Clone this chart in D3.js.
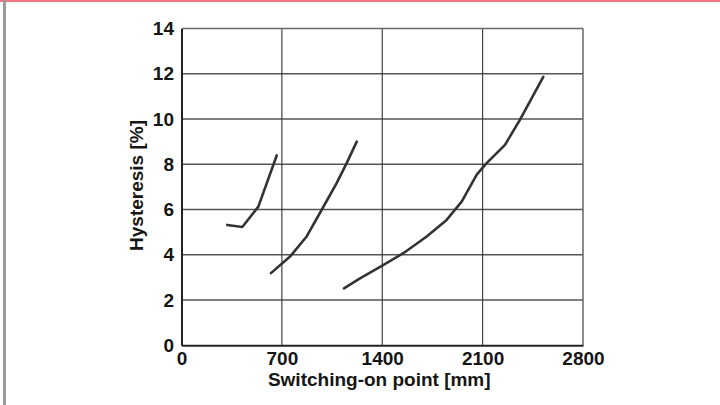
<!DOCTYPE html>
<html lang="en">
<head>
  <meta charset="UTF-8">
  <title>Hysteresis</title>
  <script src="https://d3js.org/d3.v7.min.js"></script>
  <style>
    html, body {
      margin: 0;
      padding: 0;
      width: 720px;
      height: 405px;
      overflow: hidden;
      background: #fff;
      font-family: "Liberation Sans", Arial, sans-serif;
    }
    svg { display: block; }
    .tick text { font-weight: bold; fill: #161616; }
  </style>
</head>
<body>
<svg width="720" height="405"></svg>
<script>
// switching-on point [mm] / hysteresis [%], three curves
const curveA = [[319, 5.32], [424, 5.23], [536, 6.13], [664, 8.39]];
const curveB = [[624, 3.19], [757, 3.92], [873, 4.81], [978, 5.99], [1082, 7.17], [1152, 8.05], [1222, 9.0]];
const curveC = [[1133, 2.52], [1245, 2.96], [1400, 3.52], [1547, 4.07], [1710, 4.81], [1849, 5.54],
                [1954, 6.35], [2059, 7.54], [2128, 8.05], [2256, 8.86], [2361, 9.97], [2523, 11.86]];
const xTicks = [0, 700, 1400, 2100, 2800];
const yTicks = [0, 2, 4, 6, 8, 10, 12, 14];

const svg = d3.select("svg");

// page decorations
svg.append("rect").attr("x", 0).attr("y", 0).attr("width", 720).attr("height", 2).attr("fill", "#f07482");
svg.append("rect").attr("x", 3).attr("y", 0).attr("width", 3).attr("height", 405).attr("fill", "#9a9a9e");

const pLeft = 181.5, pRight = 583, pTop = 28.5, pBottom = 345.3;
const x = d3.scaleLinear().domain([0, 2800]).range([pLeft, pRight]);
const y = d3.scaleLinear().domain([0, 14]).range([pBottom, pTop]);

// grid
const grid = svg.append("g");
grid.selectAll("line.h")
  .data(yTicks.slice(1, -1))
  .join("line")
  .attr("class", "h")
  .attr("x1", pLeft).attr("x2", pRight)
  .attr("y1", d => y(d)).attr("y2", d => y(d))
  .attr("stroke", "#555").attr("stroke-width", 1.4);
grid.selectAll("line.v")
  .data(xTicks.slice(1, -1))
  .join("line")
  .attr("class", "v")
  .attr("y1", pTop).attr("y2", pBottom)
  .attr("x1", d => x(d)).attr("x2", d => x(d))
  .attr("stroke", "#333").attr("stroke-width", 1.1);

// frame: top/right lighter, left/bottom dark
svg.append("line").attr("x1", pLeft).attr("x2", pRight).attr("y1", pTop).attr("y2", pTop)
  .attr("stroke", "#666").attr("stroke-width", 1.5);
svg.append("line").attr("x1", pRight).attr("x2", pRight).attr("y1", pTop).attr("y2", pBottom)
  .attr("stroke", "#666").attr("stroke-width", 1.5);

// curves
const line = d3.line().x(d => x(d[0])).y(d => y(d[1]));
svg.append("g").selectAll("path")
  .data([curveA, curveB, curveC])
  .join("path")
  .attr("d", line)
  .attr("fill", "none")
  .attr("stroke", "#333")
  .attr("stroke-width", 2.6)
  .attr("stroke-linejoin", "round")
  .attr("stroke-linecap", "round");

// axes
const xAxis = svg.append("g")
  .attr("transform", `translate(0,${pBottom})`)
  .call(d3.axisBottom(x).tickValues(xTicks).tickFormat(d3.format("d")).tickSize(0).tickPadding(6));
xAxis.attr("font-size", 19).attr("font-family", "Liberation Sans, Arial, sans-serif");
xAxis.select(".domain").attr("stroke", "#222").attr("stroke-width", 2);

const yAxis = svg.append("g")
  .attr("transform", `translate(${pLeft},0)`)
  .call(d3.axisLeft(y).tickValues(yTicks).tickSize(0).tickPadding(7.5));
yAxis.attr("font-size", 19).attr("font-family", "Liberation Sans, Arial, sans-serif");
yAxis.select(".domain").attr("stroke", "#222").attr("stroke-width", 2);

// titles
svg.append("text")
  .attr("x", (pLeft + pRight) / 2 - 3).attr("y", 386)
  .attr("text-anchor", "middle")
  .attr("font-size", 19).attr("font-weight", "bold").attr("fill", "#161616")
  .text("Switching-on point [mm]");

svg.append("text")
  .attr("transform", "translate(143,185.5) rotate(-90)")
  .attr("text-anchor", "middle")
  .attr("font-size", 19).attr("font-weight", "bold").attr("fill", "#161616")
  .text("Hysteresis [%]");
</script>
</body>
</html>
